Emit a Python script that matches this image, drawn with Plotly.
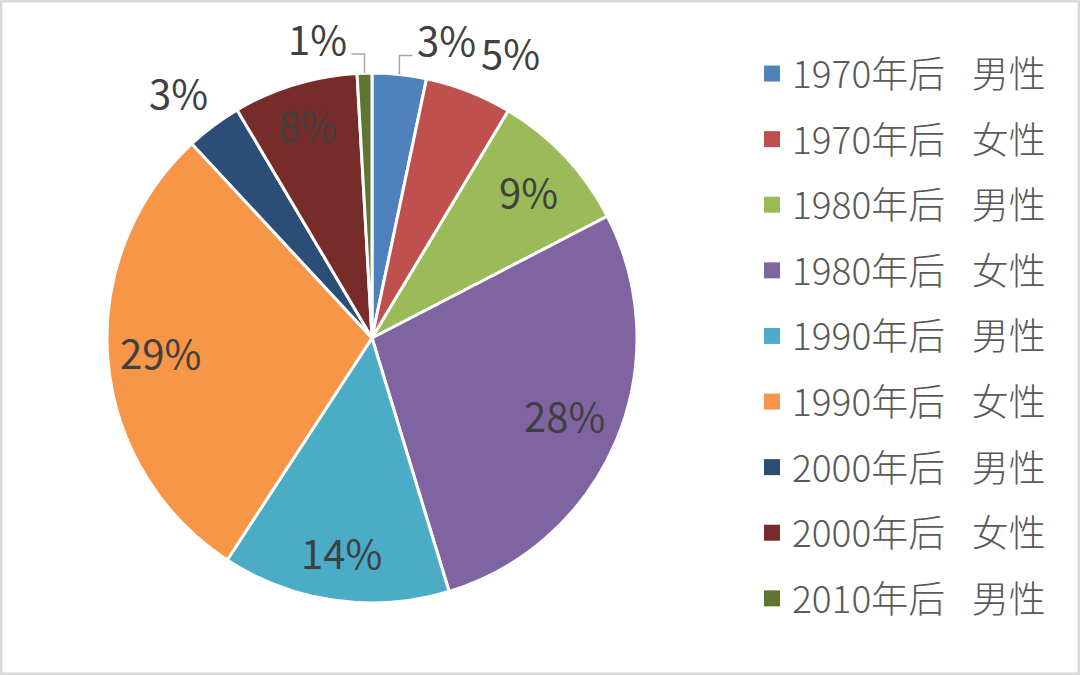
import math
import plotly.graph_objects as go

# ---- data ----
categories = ["1970年后 男性", "1970年后 女性", "1980年后 男性", "1980年后 女性",
              "1990年后 男性", "1990年后 女性", "2000年后 男性", "2000年后 女性",
              "2010年后 男性"]
shares = [3.3, 5.3, 8.8, 27.9, 13.9, 28.9, 3.4, 7.6, 0.9]

# ---- style ----
colors = ["#4f81bd", "#c0504d", "#9bbb59", "#8064a2", "#4bacc6",
          "#f79646", "#2c4d75", "#772c2a", "#5f7530"]
# label placement per slice: "in" / "out" / "lead" (outside with leader line)
label_mode = ["lead", "out", "in", "in", "in", "in", "out", "in", "lead"]
label_rfrac = [1.0, 1.185, 0.80, 0.79, 0.83, 0.80, 1.17, 0.83, 1.0]
label_dang = [0, 4.7, 0.7, 0, 0, 0, -2.0, 0, 0]  # degrees

W, H = 1080, 675
CX, CY, R = 372, 338, 265
FONT = "Noto Sans CJK SC"
LABEL_COLOR = "#404040"
LEGEND_COLOR = "#595959"
TEXT_LIFT = 4

fig = go.Figure()

fig.add_trace(go.Pie(
    labels=categories,
    values=shares,
    sort=False,
    direction="clockwise",
    rotation=0,
    marker=dict(colors=colors, line=dict(color="white", width=3)),
    textinfo="none",
    hoverinfo="label+percent",
    showlegend=False,
    domain=dict(x=[(CX - R) / W, (CX + R) / W],
                y=[1 - (CY + R) / H, 1 - (CY - R) / H]),
))

# legend entries (one per category)
for name, col in zip(categories, colors):
    shown = name.replace(" ", "\u2002\u00a0")
    fig.add_trace(go.Scatter(
        x=[None], y=[None], mode="markers", name=shown,
        marker=dict(symbol="square", size=18, color=col),
        legendgroup=name, showlegend=True, hoverinfo="skip",
    ))

# labels computed from the data
total = sum(shares)
cum = 0.0
annotations = []
shapes = []
for v, mode, rf, da in zip(shares, label_mode, label_rfrac, label_dang):
    mid = (cum + v / 2) / total * 2 * math.pi
    cum += v
    pct = f"{round(v / total * 100)}%"
    if mode == "lead":
        sx, sy = math.sin(mid), -math.cos(mid)
        x0 = CX + R * sx
        y0 = CY + R * sy
        ye = y0 - 19
        side = 1 if sx > 0 else -1
        x1 = x0 + side * 13
        shapes.append(dict(type="path", xref="x", yref="y",
                           path=f"M{x0},{y0} L{x0},{ye} L{x1},{ye}",
                           line=dict(color="#a6a6a6", width=1.5)))
        annotations.append(dict(x=x1 + side * 3, y=ye - 12 - TEXT_LIFT,
                                xref="x", yref="y",
                                text=pct, showarrow=False,
                                xanchor="left" if side > 0 else "right",
                                yanchor="middle",
                                font=dict(family=FONT, size=40, color=LABEL_COLOR)))
    else:
        a = mid + math.radians(da)
        sx, sy = math.sin(a), -math.cos(a)
        annotations.append(dict(x=CX + rf * R * sx, y=CY + rf * R * sy - TEXT_LIFT,
                                xref="x", yref="y", text=pct, showarrow=False,
                                xanchor="center", yanchor="middle",
                                font=dict(family=FONT, size=40, color=LABEL_COLOR)))

# outer border
shapes.append(dict(type="rect", xref="paper", yref="paper", x0=0.001, y0=0.002,
                   x1=0.999, y1=0.998, line=dict(color="#d9d9d9", width=2.5),
                   layer="above"))

fig.update_layout(
    width=W, height=H,
    margin=dict(l=0, r=0, t=0, b=0),
    paper_bgcolor="white", plot_bgcolor="white",
    xaxis=dict(range=[0, W], visible=False, domain=[0, 1], fixedrange=True),
    yaxis=dict(range=[H, 0], visible=False, domain=[0, 1], fixedrange=True),
    showlegend=True,
    legend=dict(x=752 / W, y=1 - 43 / H, xanchor="left", yanchor="top",
                font=dict(family=FONT, size=37, color=LEGEND_COLOR, weight=300),
                tracegroupgap=14.5, itemsizing="trace",
                bgcolor="rgba(0,0,0,0)"),
    annotations=annotations,
    shapes=shapes,
)

fig.write_html("out.html")
